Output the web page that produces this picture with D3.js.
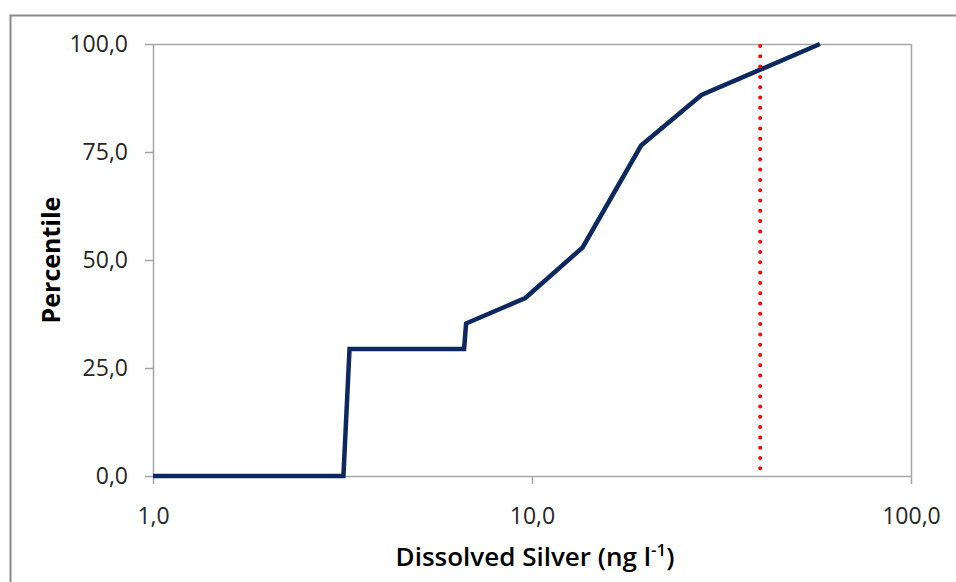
<!DOCTYPE html>
<html>
<head>
<meta charset="utf-8">
<script src="https://cdn.jsdelivr.net/npm/d3@7"></script>
<style>
  body { margin: 0; background: #fff; }
  svg { display: block; }
</style>
</head>
<body>
<div id="chart"></div>
<script>
// cumulative distribution of dissolved silver
const silver = [1.0, 3.18, 3.3, 6.62, 6.7, 9.6, 13.6, 19.4, 28.0, 57.5];
const percentile = [0, 0, 29.4, 29.4, 35.3, 41.2, 52.9, 76.5, 88.2, 100];
const threshold = [40];
const xTicks = [1, 10, 100];
const yTicks = [0, 25, 50, 75, 100];

const width = 956, height = 582;
let margin = {top: 44, right: 45, bottom: 106, left: 153};
let plotW = width - margin.left - margin.right,
    plotH = height - margin.top - margin.bottom;

let svg = d3.select('#chart')
    .append('svg')
    .attr('width', width)
    .attr('height', height);

// outer chart frame
svg.append('rect')
    .attr('x', 10.5).attr('y', 15.5)
    .attr('width', width + 10).attr('height', height + 10)
    .attr('fill', 'none')
    .attr('stroke', '#8a8a8a')
    .attr('stroke-width', 2);

let g = svg.append('g')
    .attr('transform', 'translate(' + margin.left + ',' + margin.top + ')');

let x = d3.scaleLog().domain([1, 100]).range([0, plotW]);
let y = d3.scaleLinear().domain([0, 100]).range([plotH, 0]);

const fmt = d => d3.format('.1f')(d).replace('.', ',');

// plot area border (top/right)
g.append('path')
    .attr('d', 'M0,0.5H' + (plotW + 0.5) + 'V' + plotH)
    .attr('fill', 'none')
    .attr('stroke', '#a6a6a6')
    .attr('stroke-width', 1.5);

// axes
let xAxis = g.append('g')
    .attr('transform', 'translate(0,' + plotH + ')')
    .call(d3.axisBottom(x).tickValues(xTicks).tickFormat(fmt).tickSize(8).tickSizeOuter(0).tickPadding(24));

let yAxis = g.append('g')
    .call(d3.axisLeft(y).tickValues(yTicks).tickFormat(fmt).tickSize(8).tickSizeOuter(0).tickPadding(17));

[xAxis, yAxis].forEach(a => {
    a.select('.domain').attr('stroke', '#a6a6a6').attr('stroke-width', 1.5);
    a.selectAll('.tick line').attr('stroke', '#a6a6a6').attr('stroke-width', 1.5);
    a.selectAll('.tick text')
        .attr('fill', '#262626')
        .style('font-family', 'Open Sans')
        .style('font-size', '23px');
});

// data line
let line = d3.line()
    .x((d, i) => x(silver[i]))
    .y(d => y(d));

g.append('path')
    .datum(percentile)
    .attr('d', line)
    .attr('fill', 'none')
    .attr('stroke', '#0c285f')
    .attr('stroke-width', 4.5)
    .attr('stroke-linejoin', 'miter');

// threshold
g.selectAll('.threshold')
    .data(threshold)
    .enter()
    .append('line')
        .attr('class', 'threshold')
        .attr('x1', d => x(d)).attr('x2', d => x(d))
        .attr('y1', y(100) + 2).attr('y2', y(0))
        .attr('stroke', '#ff0000')
        .attr('stroke-width', 4)
        .attr('stroke-linecap', 'round')
        .attr('stroke-dasharray', '0 10.3');

// Y label
svg.append('text')
    .attr('text-anchor', 'middle')
    .attr('transform', 'translate(60,' + (margin.top + plotH / 2) + ')rotate(-90)')
    .style('font-family', 'Open Sans')
    .style('font-weight', 'bold')
    .style('font-size', '25px')
    .attr('fill', '#000')
    .text('Percentile');

// X label
let xl = svg.append('text')
    .attr('text-anchor', 'middle')
    .attr('x', 535)
    .attr('y', 566)
    .style('font-family', 'Open Sans')
    .style('font-weight', '600')
    .style('font-size', '26px')
    .attr('fill', '#000');
xl.append('tspan').text('Dissolved Silver (ng l');
xl.append('tspan').attr('dy', -10).style('font-size', '17px').text('-1');
xl.append('tspan').attr('dy', 10).text(')');
</script>
</body>
</html>
